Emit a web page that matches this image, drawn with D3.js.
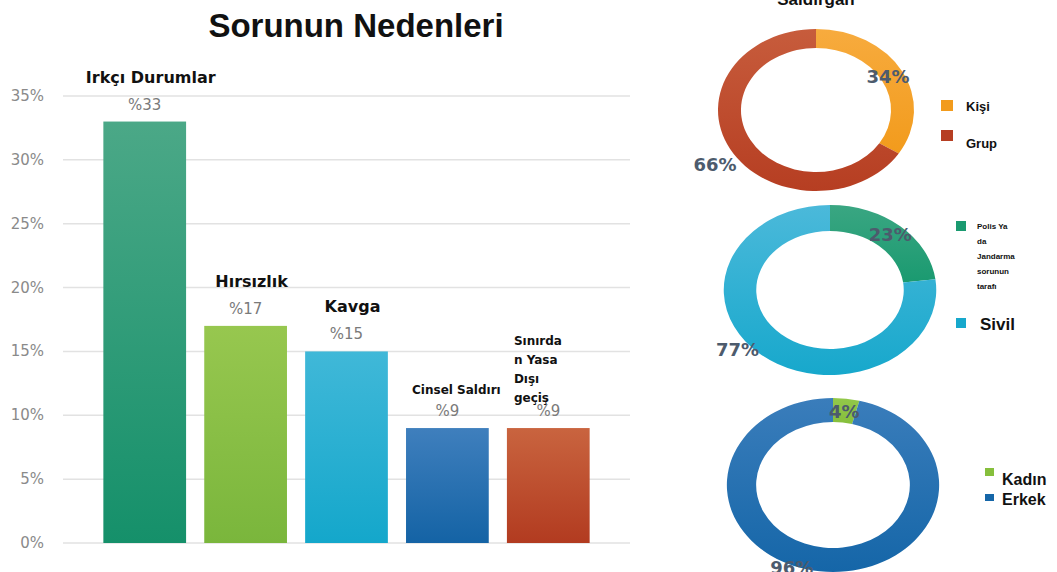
<!DOCTYPE html>
<html>
<head>
<meta charset="utf-8">
<script src="https://cdn.jsdelivr.net/npm/d3@7"></script>
<style>
  body { margin: 0; background: #fff; }
  svg { display: block; }
  .tick-label { font-family: "DejaVu Sans", sans-serif; font-size: 15px; fill: #8a8a8a; }
  .val-label { font-family: "DejaVu Sans", sans-serif; font-size: 15px; fill: #7a7a7a; }
  .cat-label { font-family: "DejaVu Sans", sans-serif; font-weight: bold; fill: #111; }
  .pct { font-family: "DejaVu Sans", sans-serif; font-weight: bold; font-size: 18px; fill: #4d5b6d; }
  .leg { font-family: "Liberation Sans", Arial, sans-serif; font-weight: bold; fill: #111; }
</style>
</head>
<body>
<svg id="chart" width="1057" height="572"></svg>
<script>
// ---- bar chart data ----
const categories = ["Irkçı Durumlar", "Hırsızlık", "Kavga", "Cinsel Saldırı", "Sınırda n Yasa Dışı geçiş"];
const catLines = [["Irkçı Durumlar"], ["Hırsızlık"], ["Kavga"], ["Cinsel Saldırı"], ["Sınırda", "n Yasa", "Dışı", "geçiş"]];
const values = [33, 17, 15, 9, 9];
const valueLabels = ["%33", "%17", "%15", "%9", "%9"];
const barTop = ["#4ba887", "#97c74f", "#40b8d8", "#3f7fbd", "#c9643f"];
const barBottom = ["#15906a", "#7ab63c", "#14a7cb", "#1463a5", "#b23b20"];
const yTicks = [0, 5, 10, 15, 20, 25, 30, 35];

// ---- donut data ----
const donut1Labels = ["Kişi", "Grup"];
const donut1Values = [34, 66];
const donut1Top = ["#f7ab3e", "#c75c3c"];
const donut1Bottom = ["#f29b1c", "#b63e22"];

const donut2Labels = ["Polis Ya da Jandarma sorunun tarafı", "Sivil"];
const donut2Lines = [["Polis Ya", "da", "Jandarma", "sorunun", "tarafı"], ["Sivil"]];
const donut2Values = [23, 77];
const donut2Top = ["#3aa682", "#4bb9da"];
const donut2Bottom = ["#1a9a70", "#17a8cc"];

const donut3Labels = ["Kadın", "Erkek"];
const donut3Values = [4, 96];
const donut3Top = ["#93c84a", "#3a7dbb"];
const donut3Bottom = ["#86bf3c", "#1566a8"];

const svg = d3.select("#chart");
const defs = svg.append("defs");

function grad(id, top, bottom) {
  const lg = defs.append("linearGradient").attr("id", id)
    .attr("x1", 0).attr("y1", 0).attr("x2", 0).attr("y2", 1);
  lg.append("stop").attr("offset", "0%").attr("stop-color", top);
  lg.append("stop").attr("offset", "100%").attr("stop-color", bottom);
  return `url(#${id})`;
}

/* ---------- bar chart ---------- */
const plot = { left: 63, right: 630, top: 96, bottom: 543 };

const x = d3.scaleBand().domain(categories).range([plot.left, plot.right])
  .paddingInner(0.18).paddingOuter(0.4);
const y = d3.scaleLinear().domain([0, 35]).range([plot.bottom, plot.top]);

svg.append("text")
  .attr("x", 356).attr("y", 37).attr("text-anchor", "middle")
  .style("font-family", "'Liberation Sans', Arial, sans-serif")
  .style("font-weight", "bold").style("font-size", "33px").attr("fill", "#111")
  .text("Sorunun Nedenleri");

const yAxis = svg.append("g");
yAxis.selectAll("line").data(yTicks).join("line")
  .attr("x1", plot.left).attr("x2", plot.right)
  .attr("y1", d => y(d)).attr("y2", d => y(d))
  .attr("stroke", "#e2e2e2").attr("stroke-width", 1.5);
yAxis.selectAll("text").data(yTicks).join("text")
  .attr("class", "tick-label")
  .attr("x", 44).attr("y", d => y(d) + 5).attr("text-anchor", "end")
  .text(d => d + "%");

svg.append("g").selectAll("rect").data(values).join("rect")
  .attr("x", (d, i) => x(categories[i]))
  .attr("width", x.bandwidth())
  .attr("y", d => y(d))
  .attr("height", d => y(0) - y(d))
  .attr("fill", (d, i) => grad("bar" + i, barTop[i], barBottom[i]));

svg.append("g").selectAll("text").data(values).join("text")
  .attr("class", "val-label")
  .attr("x", (d, i) => x(categories[i]) + x.bandwidth() / 2)
  .attr("y", d => y(d) - 12)
  .attr("text-anchor", "middle")
  .text((d, i) => valueLabels[i]);

// category names above the value labels
const catSizes = [16, 16, 16, 12, 12];
catLines.forEach((lines, i) => {
  const cx = x(categories[i]) + x.bandwidth() / 2;
  const base = y(values[i]) - 40;
  const t = svg.append("text").attr("class", "cat-label")
    .style("font-size", catSizes[i] + "px");
  if (lines.length === 1) {
    t.attr("x", cx + (i >= 3 ? 9 : 6)).attr("y", base + (i >= 3 ? 6 : 1)).attr("text-anchor", "middle").text(lines[0]);
  } else {
    // stacked label, last line sits just above the value label
    t.attr("x", x(categories[i]) + 7).attr("text-anchor", "start");
    lines.forEach((ln, k) => {
      t.append("tspan").attr("x", x(categories[i]) + 7)
        .attr("y", base - 43 + 19 * k).text(ln);
    });
  }
});

/* ---------- donuts ---------- */
svg.append("text")
  .attr("x", 816).attr("y", 5).attr("text-anchor", "middle")
  .style("font-family", "'Liberation Sans', Arial, sans-serif")
  .style("font-weight", "bold").style("font-size", "17px").attr("fill", "#111")
  .text("Saldırgan");

function donut(opts) {
  const pie = d3.pie().sort(null).value(d => d);
  const arcs = pie(opts.values);
  const arc = d3.arc().innerRadius(opts.inner).outerRadius(opts.outer);
  const g = svg.append("g")
    .attr("transform", `translate(${opts.cx},${opts.cy}) scale(${opts.sx},1)`);
  g.selectAll("path").data(arcs).join("path")
    .attr("d", arc)
    .attr("fill", (d, i) => grad(opts.id + i, opts.top[i], opts.bottom[i]));

  // percentage labels (drawn unscaled)
  arcs.forEach((a, i) => {
    const r = opts.labelR[i];
    const ang = (a.startAngle + a.endAngle) / 2 + (opts.labelShift[i] || 0);
    svg.append("text").attr("class", "pct")
      .attr("x", opts.cx + Math.sin(ang) * r * opts.sx)
      .attr("y", opts.cy - Math.cos(ang) * r + 6)
      .attr("text-anchor", "middle")
      .text(Math.round(a.value) + "%");
  });
}

donut({ id: "d1", values: donut1Values, top: donut1Top, bottom: donut1Bottom,
  cx: 816, cy: 110, outer: 81, inner: 62, sx: 1.21, labelR: [68, 100], labelShift: [0, -0.08] });
donut({ id: "d2", values: donut2Values, top: donut2Top, bottom: donut2Bottom,
  cx: 830, cy: 290, outer: 85, inner: 59, sx: 1.25, labelR: [73, 95], labelShift: [0, 0.17] });
donut({ id: "d3", values: donut3Values, top: donut3Top, bottom: donut3Bottom,
  cx: 833, cy: 485, outer: 87, inner: 63, sx: 1.22, labelR: [74, 90], labelShift: [0, 0.26] });

// legends
function swatch(xp, yp, w, h, c) {
  svg.append("rect").attr("x", xp).attr("y", yp).attr("width", w).attr("height", h).attr("fill", c);
}
function legText(xp, yp, size, txt) {
  svg.append("text").attr("class", "leg").attr("x", xp).attr("y", yp)
    .style("font-size", size + "px").text(txt);
}

swatch(941, 100, 12, 11, donut1Bottom[0]);
legText(966, 111, 13, donut1Labels[0]);
swatch(941, 130, 12, 11, donut1Bottom[1]);
legText(966, 148, 13, donut1Labels[1]);

swatch(956, 221, 10, 10, donut2Bottom[0]);
const pl = svg.append("text").attr("class", "leg").style("font-size", "8px");
donut2Lines[0].forEach((ln, k) => {
  pl.append("tspan").attr("x", 977).attr("y", 229 + 15 * k).text(ln);
});
swatch(956, 318, 10, 10, donut2Bottom[1]);
legText(980, 330, 17, donut2Labels[1]);

swatch(985, 468, 9, 8, donut3Bottom[0]);
legText(1002, 485, 16, donut3Labels[0]);
swatch(985, 494, 9, 7, donut3Bottom[1]);
legText(1002, 505, 16, donut3Labels[1]);
</script>
</body>
</html>
